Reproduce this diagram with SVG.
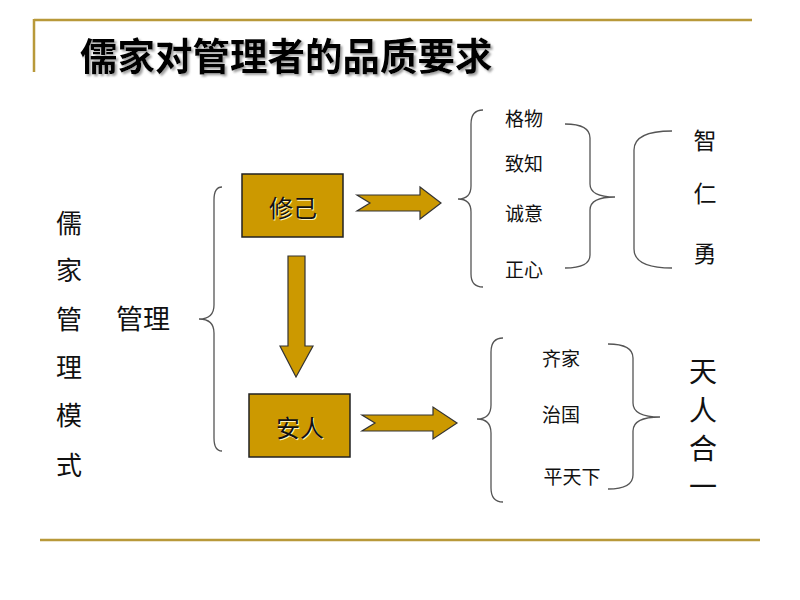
<svg xmlns="http://www.w3.org/2000/svg" width="800" height="600" viewBox="0 0 800 600">
<defs>
<style>
.rule{stroke:#B8993A;stroke-width:2.5;fill:none}
.brace{stroke:#555;stroke-width:1.3;fill:none}
.box{fill:#CC9900;stroke:#222;stroke-width:1.5}
.arrow{fill:#CC9900;stroke:#333;stroke-width:1.2;stroke-linejoin:miter}
.t{font-family:"Noto Sans CJK SC","Noto Sans",sans-serif;fill:#111;text-anchor:middle;dominant-baseline:central}
.title{font-family:"Noto Sans CJK SC","Noto Sans",sans-serif;font-weight:bold;font-size:37.5px;fill:#000}
.emb{fill:#FFF2C0}
</style>
<filter id="sh" x="-5%" y="-20%" width="115%" height="150%">
<feDropShadow dx="2" dy="2" stdDeviation="1" flood-color="#888" flood-opacity="0.8"/>
</filter>
</defs>
<rect width="800" height="600" fill="#fff"/>
<g id="frame">
<path class="rule" d="M34,20 H752 M34,19 V72"/>
<path class="rule" d="M40,540 H760"/>
</g>
<text id="title" class="title" x="80" y="70" filter="url(#sh)">儒家对管理者的品质要求</text>
<g id="side-label">
<text class="t" font-size="26" x="69" y="221">儒</text>
<text class="t" font-size="26" x="69" y="268">家</text>
<text class="t" font-size="26" x="69" y="317">管</text>
<text class="t" font-size="26" x="69" y="365">理</text>
<text class="t" font-size="26" x="69" y="413">模</text>
<text class="t" font-size="26" x="69" y="463">式</text>
</g>
<g id="guanli"><text class="t" font-size="27" x="143" y="317">管理</text></g>
<g id="xiuji">
<rect class="box" x="242" y="174" width="101" height="63"/>
<text class="t emb" font-size="24" x="294" y="207">修己</text>
<text class="t" font-size="24" x="293" y="206">修己</text>
</g>
<g id="anren">
<rect class="box" x="249" y="394" width="101" height="63"/>
<text class="t emb" font-size="24" x="301" y="427">安人</text>
<text class="t" font-size="24" x="300" y="426">安人</text>
</g>
<g id="connectors">
<path class="arrow" d="M357,195 H420 V187 L441,203 L420,219 V211 H357 L370,203 Z"/>
<path class="arrow" d="M362,415 H433 V407 L457,423 L433,439 V431 H362 L375,423 Z"/>
<path class="arrow" d="M288,256 H305 V346 H313 L296,377 L280,346 H288 Z"/>
</g>
<g id="braces">
<path class="brace" d="M222,187 Q214,187 214,200 L214,305 Q214,319 199,319 Q214,319 214,333 L214,438 Q214,451 222,451"/>
<path class="brace" d="M483,110 Q471,110 471,124 L471,186 Q471,199 458,199 Q471,199 471,212 L471,274 Q471,287 483,287"/>
<path class="brace" d="M565,124 Q590,124 590,138 L590,184 Q590,197 615,197 Q590,197 590,210 L590,255 Q590,268 565,268"/>
<path class="brace" d="M672,131 Q634,131 634,150 L634,249 Q634,268 672,268"/>
<path class="brace" d="M503,338 Q491,338 491,352 L491,405 Q491,419 477,419 Q491,419 491,433 L491,488 Q491,502 503,502"/>
<path class="brace" d="M608,344 Q633,344 633,358 L633,403 Q633,417 660,417 Q633,417 633,431 L633,475 Q633,489 608,489"/>
</g>
<g id="xiuji-items">
<text class="t" font-size="19" x="524" y="117">格物</text>
<text class="t" font-size="19" x="524" y="162">致知</text>
<text class="t" font-size="19" x="524" y="212">诚意</text>
<text class="t" font-size="19" x="524" y="268">正心</text>
</g>
<g id="virtues">
<text class="t" font-size="23" x="705" y="139">智</text>
<text class="t" font-size="23" x="705" y="192">仁</text>
<text class="t" font-size="23" x="705" y="252">勇</text>
</g>
<g id="anren-items">
<text class="t" font-size="19" x="561" y="357">齐家</text>
<text class="t" font-size="19" x="561" y="413">治国</text>
<text class="t" font-size="19" x="572" y="475">平天下</text>
</g>
<g id="tianrenheyi">
<text class="t" font-size="28" x="703" y="370">天</text>
<text class="t" font-size="28" x="703" y="409">人</text>
<text class="t" font-size="28" x="703" y="447">合</text>
<text class="t" font-size="28" x="703" y="485">一</text>
</g>
</svg>
